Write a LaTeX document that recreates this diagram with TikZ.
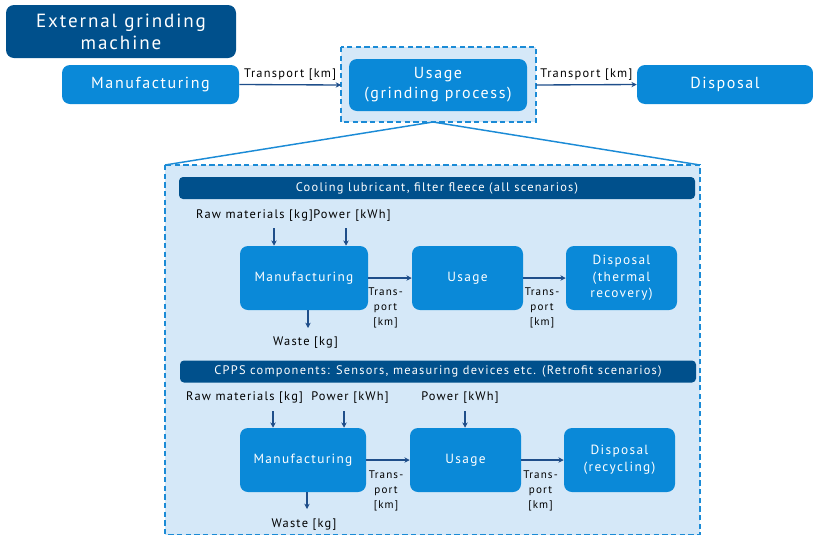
\documentclass[tikz,border=0pt]{standalone}
\usepackage{fontspec}
\setmainfont{PT Sans}[LetterSpace=10]
\usetikzlibrary{arrows.meta}
\definecolor{darkb}{HTML}{00508C}
\definecolor{midb}{HTML}{0A89D8}
\definecolor{lightb}{HTML}{D5E8F8}
\definecolor{dashb}{HTML}{1B8BD6}
\definecolor{arrb}{HTML}{1F4E8A}
\def\u{0.75pt}
\tikzset{
  x=0.75pt, y=-0.75pt,
  dbox/.style={fill=darkb, rounded corners=6pt, text=white, align=center, inner sep=0pt},
  mbox/.style={fill=midb, rounded corners=6pt, text=white, align=center, inner sep=0pt},
  flow/.style={draw=arrb, line width=1pt, -{Stealth[length=4pt,width=4pt]}},
  lbl/.style={text=black, align=center, inner sep=0pt, font=\fontsize{9.3}{10.5}\selectfont},
  toplbl/.style={text=black, align=center, inner sep=0pt, font=\fontsize{9.3}{11}\selectfont},
  tlbl/.style={text=black, align=center, inner sep=0pt, font=\fontsize{8.3}{11}\selectfont},
  huge/.style={font=\fontsize{14.3}{16.5}\selectfont},
  big/.style={font=\fontsize{12}{15}\selectfont},
  med/.style={font=\fontsize{10}{12.5}\selectfont},
  hdr/.style={font=\fontsize{9.3}{10}\selectfont},
  dashbox/.style={draw=dashb, fill=lightb, line width=1.1pt, dash pattern=on 4pt off 2.5pt}
}
\begin{document}
\begin{tikzpicture}
\useasboundingbox (0,0) rectangle (813,536);
% top row
\node[dbox, huge, minimum width=230*\u, minimum height=53*\u] (egm) at (121,31.5) {External grinding\\machine};
\node[mbox, big, minimum width=177*\u, minimum height=39*\u] (man) at (150.5,84.5) {Manufacturing};
\draw[dashbox] (341,47) rectangle (536,122);
\coordinate (ub) at (433,122);
\node[mbox, big, minimum width=178*\u, minimum height=52*\u] (use) at (438,85) {Usage\\(grinding process)};
\node[mbox, big, minimum width=176*\u, minimum height=39*\u] (dis) at (725,84.5) {Disposal};
\coordinate (ul) at (341,85);
\coordinate (ur) at (536,85);
\draw[flow] (man.east) -- (ul) node[toplbl, midway, above=2.5pt] {Transport [km]};
\draw[flow] (ur) -- (dis.west) node[toplbl, midway, above=2.5pt] {Transport [km]};
% zoom lines
\coordinate (bl) at (165,165);
\coordinate (br) at (700,165);
\draw[dashb, line width=1.1pt] (bl) -- (ub) -- (br);
\draw[dashbox] (165,165) rectangle (700,534.5);
% header 1
\node[dbox, hdr, rounded corners=3pt, minimum width=516*\u, minimum height=22*\u] (h1) at (437,188) {Cooling lubricant, filter fleece (all scenarios)};
\node[lbl] (rm1) at (254.5,216) {Raw materials [kg]};
\node[lbl] (pw1) at (352,216) {Power [kWh]};
\node[mbox, med, minimum width=128*\u, minimum height=64*\u] (m1) at (304,278) {Manufacturing};
\node[mbox, med, minimum width=111*\u, minimum height=64*\u] (u1) at (467.5,278) {Usage};
\node[mbox, med, minimum width=111*\u, minimum height=64*\u] (d1) at (621.5,278) {Disposal\\(thermal\\recovery)};
\coordinate (a1) at (274,228);
\coordinate (a2) at (346,228);
\draw[flow] (a1) -- (a1 |- m1.north);
\draw[flow] (a2) -- (a2 |- m1.north);
\draw[flow] (m1.east) -- (u1.west);
\draw[flow] (u1.east) -- (d1.west);
\node[tlbl] (t1) at (385.5,308) {Trans-\\port\\{[km]}};
\node[tlbl] (t2) at (542,308) {Trans-\\port\\{[km]}};
\coordinate (w1) at (308,328);
\draw[flow] (w1 |- m1.south) -- (w1);
\node[lbl] (wl1) at (305.5,343) {Waste [kg]};
% header 2
\node[dbox, hdr, rounded corners=3pt, minimum width=516*\u, minimum height=22*\u] (h2) at (438,371.5) {CPPS components: Sensors, measuring devices etc. (Retrofit scenarios)};
\node[lbl] (rm2) at (244.5,398) {Raw materials [kg]};
\node[lbl] (pw2) at (350,398) {Power [kWh]};
\node[lbl] (pw3) at (460,398) {Power [kWh]};
\node[mbox, med, minimum width=126*\u, minimum height=64*\u] (m2) at (303,460) {Manufacturing};
\node[mbox, med, minimum width=111*\u, minimum height=64*\u] (u2) at (465.5,460) {Usage};
\node[mbox, med, minimum width=111*\u, minimum height=64*\u] (d2) at (619.5,460) {Disposal\\(recycling)};
\coordinate (b1) at (273,411);
\coordinate (b2) at (344,411);
\coordinate (b3) at (465,411);
\draw[flow] (b1) -- (b1 |- m2.north);
\draw[flow] (b2) -- (b2 |- m2.north);
\draw[flow] (b3) -- (b3 |- u2.north);
\draw[flow] (m2.east) -- (u2.west);
\draw[flow] (u2.east) -- (d2.west);
\node[tlbl] (t3) at (386,491) {Trans-\\port\\{[km]}};
\node[tlbl] (t4) at (540.5,491) {Trans-\\port\\{[km]}};
\coordinate (w2) at (307,509);
\draw[flow] (w2 |- m2.south) -- (w2);
\node[lbl] (wl2) at (304,525) {Waste [kg]};
\end{tikzpicture}
\end{document}
